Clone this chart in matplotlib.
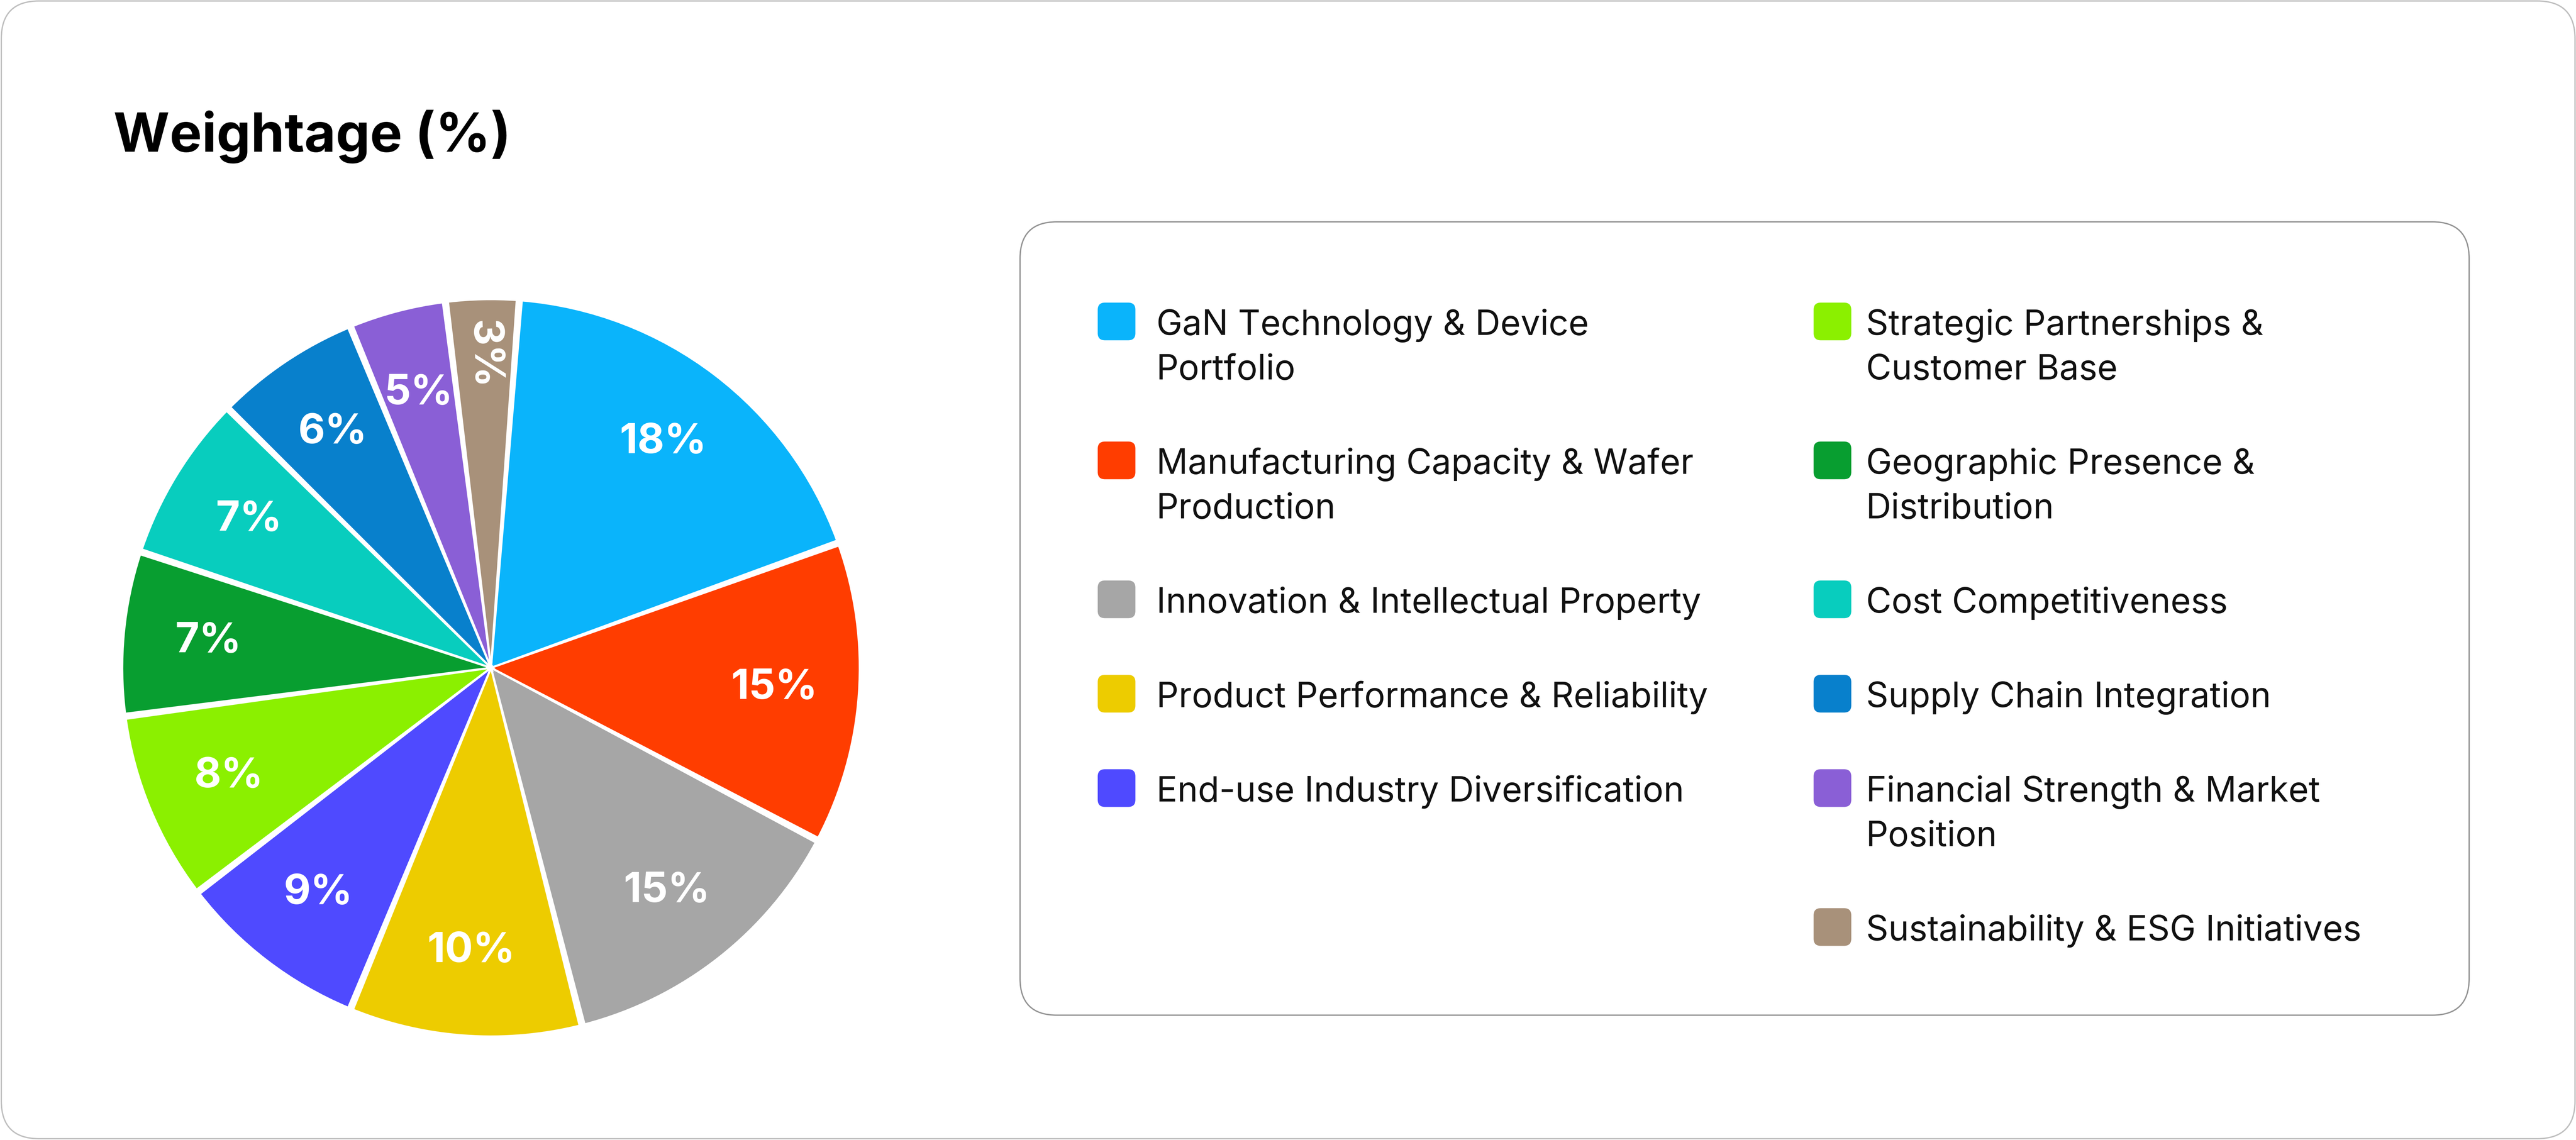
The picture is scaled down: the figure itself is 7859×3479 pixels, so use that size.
import matplotlib
matplotlib.use("Agg")
import numpy as np
import matplotlib.pyplot as plt
from matplotlib.patches import FancyBboxPatch

plt.rcParams['font.family'] = ['Inter', 'DejaVu Sans']

# data
categories = [
    "GaN Technology & Device Portfolio",
    "Manufacturing Capacity & Wafer Production",
    "Innovation & Intellectual Property",
    "Product Performance & Reliability",
    "End-use Industry Diversification",
    "Strategic Partnerships & Customer Base",
    "Geographic Presence & Distribution",
    "Cost Competitiveness",
    "Supply Chain Integration",
    "Financial Strength & Market Position",
    "Sustainability & ESG Initiatives",
]
# printed weightage labels
weights = [18, 15, 15, 10, 9, 8, 7, 7, 6, 5, 3]
# slice sizes as they appear in the picture (share of the circle, %)
arc_share = [18.3, 13.25, 13.3, 10.2, 8.4, 8.3, 7.2, 7.3, 6.4, 4.25, 3.2]
colors = ["#0AB4FB", "#FF3D00", "#A6A6A6", "#EDCC00", "#4F4AFF", "#8BF000",
          "#089E30", "#08CDBE", "#0880CC", "#8A5FD6", "#A8917A"]
# legend layout: wrapped lines per column
legend_left = [["GaN Technology & Device", "Portfolio"],
               ["Manufacturing Capacity & Wafer", "Production"],
               ["Innovation & Intellectual Property"],
               ["Product Performance & Reliability"],
               ["End-use Industry Diversification"]]
legend_right = [["Strategic Partnerships &", "Customer Base"],
                ["Geographic Presence &", "Distribution"],
                ["Cost Competitiveness"],
                ["Supply Chain Integration"],
                ["Financial Strength & Market", "Position"],
                ["Sustainability & ESG Initiatives"]]

W, H = 7860, 3480
fig = plt.figure(figsize=(W / 100, H / 100), dpi=100)
fig.patch.set_facecolor("white")

# background layer in pixel coordinates
ax0 = fig.add_axes([0, 0, 1, 1])
ax0.set_xlim(0, W)
ax0.set_ylim(H, 0)
ax0.axis("off")

ax0.add_patch(FancyBboxPatch((4, 4), W - 8, H - 8,
                             boxstyle="round,pad=0,rounding_size=115",
                             fc="white", ec="#bfbfbf", lw=2.9))
ax0.text(346, 463, "Weightage (%)", fontsize=119, fontweight="bold",
         color="#000000", va="baseline", ha="left")

# legend box
ax0.add_patch(FancyBboxPatch((3112, 678), 7533 - 3112, 3099 - 678,
                             boxstyle="round,pad=0,rounding_size=112",
                             fc="white", ec="#949494", lw=2.9))

line_pitch = 136
item_gap = 152
sq = 115
col_x = [(3349, 3528), (5533, 5693)]
idx = 0
for (sx, tx), items in zip(col_x, [legend_left, legend_right]):
    base = 1022
    for lines in items:
        c = colors[idx]
        idx += 1
        cy = base - 40
        ax0.add_patch(FancyBboxPatch((sx, cy - sq / 2), sq, sq,
                                     boxstyle="round,pad=0,rounding_size=22",
                                     fc=c, ec="none"))
        for k, ln in enumerate(lines):
            ax0.text(tx, base + k * line_pitch, ln, fontsize=76.5,
                     color="#111111", va="baseline", ha="left")
        base += len(lines) * line_pitch + item_gap

# pie
cx, cy, R = 1498, 2039, 1125
ax = fig.add_axes([(cx - R) / W, (H - cy - R) / H, 2 * R / W, 2 * R / H])
it = iter(weights)
wedges, texts, autotexts = ax.pie(
    arc_share, colors=colors, startangle=85.6, counterclock=False,
    autopct=lambda p: f"{next(it)}%", pctdistance=0.77,
    wedgeprops=dict(edgecolor="white", linewidth=4.5),
    textprops=dict(color="white", fontsize=91, fontweight="bold"))
pad = 0.8
for wd in wedges:
    wd.set_theta1(wd.theta1 + pad / 2)
    wd.set_theta2(wd.theta2 - pad / 2)
for t in autotexts:
    t.set_ha("center")
    t.set_va("center")
# the thin last slice carries its label turned along the radius
last = wedges[-1]
mid = np.deg2rad((last.theta1 + last.theta2) / 2)
autotexts[-1].set_position((0.85 * np.cos(mid), 0.85 * np.sin(mid)))
autotexts[-1].set_rotation(-88)
ax.set_xlim(-1, 1)
ax.set_ylim(-1, 1)
ax.set_aspect("equal")
ax.axis("off")

fig.savefig("out.png", dpi=100, facecolor="white")
